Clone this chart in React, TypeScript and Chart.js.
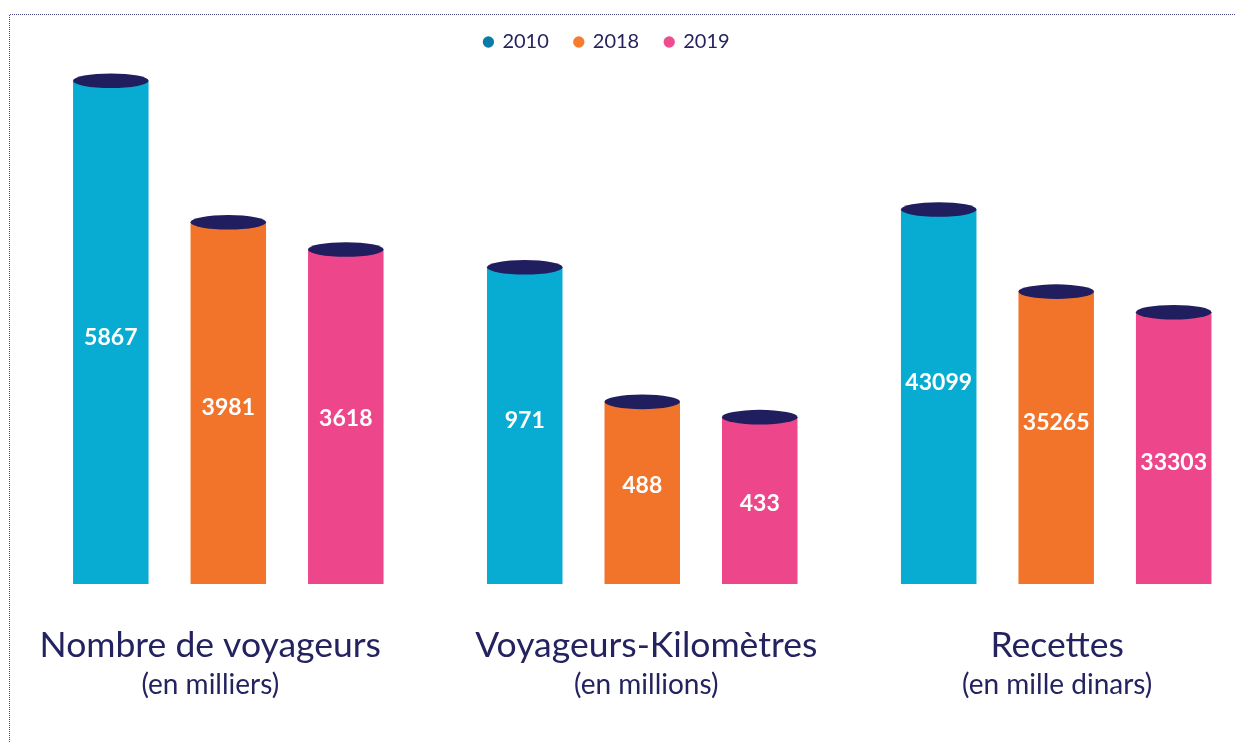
import React, { useEffect, useRef } from "react";
import { Chart, registerables } from "chart.js";

Chart.register(...registerables);

// ---- data ----
const groups = ["Nombre de voyageurs", "Voyageurs-Kilomètres", "Recettes"];
const units = ["(en milliers)", "(en millions)", "(en mille dinars)"];
const years = ["2010", "2018", "2019"];
const values2010 = [5867, 971, 43099];
const values2018 = [3981, 488, 35265];
const values2019 = [3618, 433, 33303];

// each group is drawn on its own (hidden) value axis
const axisMin = [-839, -166, 7385];
const axisMax = [6117, 1708, 57161];

// ---- styles ----
const barColors = ["#08acd2", "#f2742b", "#ee468b"];
const legendColors = ["#0b7ba6", "#f47b30", "#ef4c8f"];
const capColor = "#201e5e";
const textColor = "#25235f";
const FONT = "Lato, 'Noto Sans', sans-serif";
const labelShift = [
  [4.5, 3.4, 0.8],
  [-6, -8.5, 2.6],
  [-15.3, -16.5, 13.5],
];
const titleShift = [-18, 4, 1];

const seriesByYear = [values2010, values2018, values2019];

const decorPlugin = {
  id: "decor",
  beforeDraw(chart: any) {
    const ctx = chart.ctx;
    ctx.save();
    ctx.strokeStyle = "#4b4a8e";
    ctx.lineWidth = 1;
    ctx.setLineDash([1, 1]);
    ctx.beginPath();
    ctx.moveTo(9.5, chart.height);
    ctx.lineTo(9.5, 14.5);
    ctx.lineTo(chart.width, 14.5);
    ctx.stroke();
    ctx.restore();
  },
  afterDatasetsDraw(chart: any) {
    const ctx = chart.ctx;
    ctx.save();
    chart.data.datasets.forEach((ds: any, di: number) => {
      const meta = chart.getDatasetMeta(di);
      meta.data.forEach((el: any, i: number) => {
        const v = ds.data[i].y;
        if (v === null || v === undefined) return;
        const { x, y, base, width } = el.getProps(["x", "y", "base", "width"], true);
        ctx.fillStyle = capColor;
        ctx.beginPath();
        ctx.ellipse(x, y, width / 2, 7.3, 0, 0, Math.PI * 2);
        ctx.fill();
        const g = ds.groupIndex;
        const yr = ds.yearIndex;
        ctx.fillStyle = "#ffffff";
        ctx.font = `bold 23px ${FONT}`;
        ctx.textAlign = "center";
        ctx.textBaseline = "alphabetic";
        ctx.fillText(String(v), x, (y + base) / 2 + labelShift[g][yr] + 8.3);
      });
    });
    ctx.restore();
  },
  afterDraw(chart: any) {
    const ctx = chart.ctx;
    const xs = chart.scales.x;
    const bottom = chart.chartArea.bottom;
    ctx.save();
    ctx.fillStyle = textColor;
    ctx.textAlign = "center";
    ctx.textBaseline = "alphabetic";
    groups.forEach((name, g) => {
      const cx = xs.getPixelForValue(g) + titleShift[g];
      ctx.font = `35.5px ${FONT}`;
      ctx.fillText(name, cx, bottom + 73);
      ctx.font = `28px ${FONT}`;
      ctx.fillText(units[g], cx, bottom + 110);
    });
    ctx.restore();
  },
};

export default function App() {
  const ref = useRef<HTMLCanvasElement | null>(null);

  useEffect(() => {
    if (!ref.current) return;
    const datasets: any[] = [];
    groups.forEach((_, g) => {
      years.forEach((yr, y) => {
        datasets.push({
          label: yr,
          groupIndex: g,
          yearIndex: y,
          data: groups.map((__, i) => ({ x: i, y: i === g ? seriesByYear[y][i] : null })),
          yAxisID: "y" + g,
          backgroundColor: barColors[y],
          base: axisMin[g],
          skipNull: true,
          categoryPercentage: 0.8515,
          barPercentage: 0.6426,
          borderWidth: 0,
          clip: false,
        });
      });
    });

    const yScale = (g: number) => ({
      type: "linear",
      display: false,
      min: axisMin[g],
      max: axisMax[g],
      beginAtZero: false,
      grid: { display: false },
    });

    const chart = new Chart(ref.current, {
      type: "bar",
      data: { datasets },
      options: {
        responsive: false,
        animation: false,
        layout: { padding: { left: 0, right: 22, top: 6, bottom: 158 } },
        scales: {
          x: {
            type: "linear",
            display: false,
            offset: false,
            min: -0.5515,
            max: 2.3812,
            ticks: { stepSize: 1, includeBounds: false },
            grid: { display: false },
          },
          y0: yScale(0),
          y1: yScale(1),
          y2: yScale(2),
        } as any,
        plugins: {
          legend: {
            display: true,
            position: "top",
            labels: {
              usePointStyle: true,
              boxWidth: 8,
              boxHeight: 8,
              padding: 26,
              color: textColor,
              font: { family: FONT, size: 20 },
              generateLabels: () =>
                years.map((yr, i) => ({
                  text: yr,
                  fillStyle: legendColors[i],
                  strokeStyle: legendColors[i],
                  lineWidth: 0,
                  pointStyle: "circle",
                  hidden: false,
                  datasetIndex: i,
                  fontColor: textColor,
                })),
            },
            onClick: () => {},
          },
          tooltip: { enabled: false },
        },
      } as any,
      plugins: [decorPlugin],
    });
    return () => chart.destroy();
  }, []);

  return (
    <div style={{ position: "absolute", left: 0, top: 0, width: 1236, height: 742, background: "#ffffff" }}>
      <canvas ref={ref} width={1236} height={742} style={{ display: "block", width: 1236, height: 742 }} />
    </div>
  );
}
